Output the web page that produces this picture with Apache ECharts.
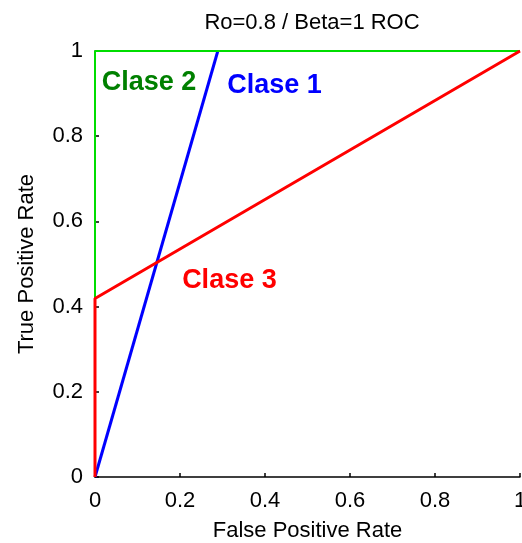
<!DOCTYPE html>
<html>
<head>
<meta charset="utf-8">
<script src="https://cdn.jsdelivr.net/npm/echarts@6/dist/echarts.min.js"></script>
<style>
html,body{margin:0;padding:0;background:#fff;}
#c{width:522px;height:543px;}
</style>
</head>
<body>
<div id="c"></div>
<script>
// ROC curve data (FPR, TPR)
var clase1 = [[0, 0], [0.289, 1]];
var clase2 = [[0, 0], [0, 1], [1, 1]];
var clase3 = [[0, 0], [0, 0.419], [1, 1]];
// label anchor points (data coordinates)
var labelNames = ['Clase 1', 'Clase 2', 'Clase 3'];
var labelPos = [[0.311, 0.92], [0.016, 0.927], [0.205, 0.461]];
var labelColors = ['#0000ff', '#008000', '#ff0000'];
var xTicks = [0, 0.2, 0.4, 0.6, 0.8, 1];
var yTicks = [0, 0.2, 0.4, 0.6, 0.8, 1];
var titleText = 'Ro=0.8 / Beta=1 ROC';
var xName = 'False Positive Rate';
var yName = 'True Positive Rate';

var FONT = '"Liberation Sans", Arial, sans-serif';

function fmt(v) { return String(+v.toFixed(2)); }

var labelSeries = labelNames.map(function (n, i) {
  return {
    type: 'scatter',
    data: [labelPos[i]],
    symbolSize: 0,
    silent: true,
    z: 10,
    itemStyle: {opacity: 1, color: labelColors[i]},
    label: {
      show: true,
      position: 'right',
      distance: 0,
      formatter: n,
      opacity: 1,
      color: labelColors[i],
      fontFamily: FONT,
      fontWeight: 'bold',
      fontSize: 27
    }
  };
});

var chart = echarts.init(document.getElementById('c'), null, {renderer: 'canvas'});
chart.setOption({
  animation: false,
  backgroundColor: '#ffffff',
  title: {
    text: titleText,
    left: 307,
    textAlign: 'center',
    top: 7,
    textStyle: {fontFamily: FONT, fontWeight: 'normal', fontSize: 22, color: '#000'}
  },
  grid: {left: 95, right: 2, top: 51, bottom: 66, containLabel: false, outerBoundsMode: 'none'},
  xAxis: {
    type: 'value',
    min: 0, max: 1, interval: 0.2,
    name: xName,
    nameLocation: 'middle',
    nameGap: 43,
    nameTextStyle: {fontFamily: FONT, fontSize: 22, color: '#000'},
    axisLine: {show: true, onZero: false, lineStyle: {color: '#000', width: 1.5}},
    axisTick: {show: true, inside: true, length: 4, lineStyle: {color: '#000', width: 1.5}},
    axisLabel: {fontFamily: FONT, fontSize: 22, color: '#000', margin: 13, formatter: fmt},
    splitLine: {show: false}
  },
  yAxis: {
    type: 'value',
    min: 0, max: 1, interval: 0.2,
    name: yName,
    nameLocation: 'middle',
    nameGap: 57,
    nameTextStyle: {fontFamily: FONT, fontSize: 22, color: '#000'},
    axisLine: {show: true, onZero: false, lineStyle: {color: '#000', width: 1.5}},
    axisTick: {show: true, inside: true, length: 4, lineStyle: {color: '#000', width: 1.5}},
    axisLabel: {fontFamily: FONT, fontSize: 22, color: '#000', margin: 12, formatter: fmt},
    splitLine: {show: false}
  },
  series: [
    {
      type: 'line', name: 'Clase 1', data: clase1, showSymbol: false, symbol: 'none',
      lineStyle: {color: '#0000ff', width: 3}, z: 3
    },
    {
      type: 'line', name: 'Clase 2', data: clase2, showSymbol: false, symbol: 'none',
      lineStyle: {color: '#00dd00', width: 2}, z: 4
    },
    {
      type: 'line', name: 'Clase 3', data: clase3, showSymbol: false, symbol: 'none',
      lineStyle: {color: '#ff0000', width: 3}, z: 5
    }
  ].concat(labelSeries)
});
</script>
</body>
</html>
